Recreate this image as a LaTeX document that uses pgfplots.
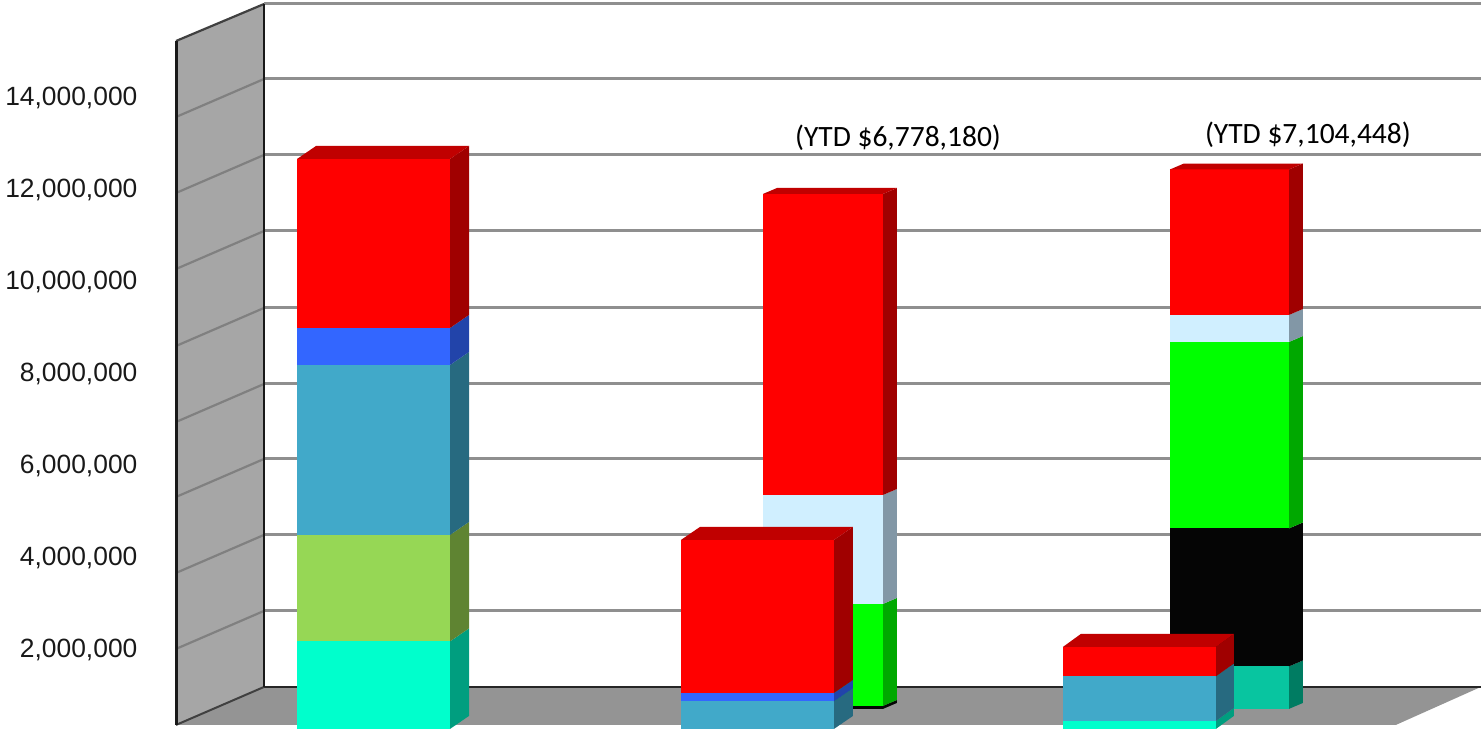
\documentclass[border=0pt]{standalone}
\usepackage{fontspec}
\setmainfont{Liberation Sans}
\newfontfamily\calib{Carlito}
\usepackage{pgfplots}
\pgfplotsset{compat=1.18}
\definecolor{wallc}{HTML}{A6A6A6}
\definecolor{floorc}{HTML}{949494}
\definecolor{gridc}{HTML}{8F8F8F}
\definecolor{wgrid}{HTML}{808080}
\definecolor{redF}{HTML}{FF0000}\definecolor{redS}{HTML}{A00000}\definecolor{redT}{HTML}{C00000}
\definecolor{bluF}{HTML}{3366FF}\definecolor{bluS}{HTML}{2244AA}
\definecolor{steF}{HTML}{41A9C9}\definecolor{steS}{HTML}{276A80}
\definecolor{oliF}{HTML}{96D755}\definecolor{oliS}{HTML}{5F8432}
\definecolor{cyaF}{HTML}{00FFCC}\definecolor{cyaS}{HTML}{009E7F}
\definecolor{ligF}{HTML}{D0EFFF}\definecolor{ligS}{HTML}{8297A6}
\definecolor{greF}{HTML}{00FF00}\definecolor{greS}{HTML}{00A800}
\definecolor{blkF}{HTML}{050505}\definecolor{blkS}{HTML}{050505}
\definecolor{teaF}{HTML}{08C5A0}\definecolor{teaS}{HTML}{007C62}
% #1 x0, #2 x1, #3 v0, #4 v1, #5 dx, #6 dv, #7 colour stem
\newcommand{\seg}[7]{%
  \pgfmathsetmacro{\xb}{#2+#5}%
  \pgfmathsetmacro{\vlo}{#3+#6}%
  \pgfmathsetmacro{\vhi}{#4+#6}%
  \addplot[fill=#7S,draw=none] coordinates {(#2,#3) (\xb,\vlo) (\xb,\vhi) (#2,#4)} --cycle;
  \addplot[fill=#7F,draw=none] coordinates {(#1,#3) (#2,#3) (#2,#4) (#1,#4)} --cycle;
}
% top face
\newcommand{\topf}[5]{%
  \pgfmathsetmacro{\xa}{#1+#4}%
  \pgfmathsetmacro{\xb}{#2+#4}%
  \pgfmathsetmacro{\vhi}{#3+#5}%
  \addplot[fill=redT,draw=none] coordinates {(#1,#3) (#2,#3) (\xb,\vhi) (\xa,\vhi)} --cycle;
}
\begin{document}
\begin{tikzpicture}
\begin{axis}[
  scale only axis, width=1481pt, height=730pt,
  xmin=0, xmax=1481, ymin=0.19565, ymax=16.06522,
  axis line style={draw=none}, major tick length=0pt,
  xtick=\empty,
  ytick={2,4,6,8,10,12,14},
  yticklabels={{2,000,000},{4,000,000},{6,000,000},{8,000,000},{10,000,000},{12,000,000},{14,000,000}},
  yticklabel style={anchor=east,inner sep=0pt,xshift=137.5pt,yshift=-3pt,text=black!90,font=\fontsize{26.4}{30}\selectfont},
  every axis plot/.append style={forget plot},
  clip=true,
]
% back grid lines
\addplot[gridc,line width=3pt] coordinates {(264,15.978) (1481,15.978)};
\addplot[gridc,line width=3pt] coordinates {(264,14.348) (1481,14.348)};
\addplot[gridc,line width=3pt] coordinates {(264,12.696) (1481,12.696)};
\addplot[gridc,line width=3pt] coordinates {(264,11.043) (1481,11.043)};
\addplot[gridc,line width=3pt] coordinates {(264,9.370) (1481,9.370)};
\addplot[gridc,line width=3pt] coordinates {(264,7.717) (1481,7.717)};
\addplot[gridc,line width=3pt] coordinates {(264,6.087) (1481,6.087)};
\addplot[gridc,line width=3pt] coordinates {(264,4.435) (1481,4.435)};
\addplot[gridc,line width=3pt] coordinates {(264,2.783) (1481,2.783)};
% floor
\addplot[fill=floorc,draw=none] coordinates {(176,0.304) (264,1.130) (1481,1.130) (1396,0.304)} --cycle;
\addplot[black!85,line width=2.6pt] coordinates {(264,1.130) (1481,1.130)};
% side wall
\addplot[fill=wallc,draw=none] coordinates {(176,0.304) (264,1.130) (264,15.978) (176,15.174)} --cycle;
\addplot[wgrid,line width=2.2pt] coordinates {(176,13.522) (264,14.348)};
\addplot[wgrid,line width=2.2pt] coordinates {(176,11.870) (264,12.696)};
\addplot[wgrid,line width=2.2pt] coordinates {(176,10.217) (264,11.043)};
\addplot[wgrid,line width=2.2pt] coordinates {(176,8.543) (264,9.370)};
\addplot[wgrid,line width=2.2pt] coordinates {(176,6.891) (264,7.717)};
\addplot[wgrid,line width=2.2pt] coordinates {(176,5.261) (264,6.087)};
\addplot[wgrid,line width=2.2pt] coordinates {(176,3.609) (264,4.435)};
\addplot[wgrid,line width=2.2pt] coordinates {(176,1.957) (264,2.783)};
\addplot[black!75,line width=2.2pt] coordinates {(176,15.174) (264,15.978)};
\addplot[black!75,line width=2pt] coordinates {(176,0.304) (264,1.130)};
\addplot[black!90,line width=3pt] coordinates {(176,0.304) (176,15.174)};
\addplot[black!90,line width=2.6pt] coordinates {(264,1.130) (264,15.978)};
% bar 1
\seg{297}{450}{0.217}{2.120}{19}{0.283}{cya}
\seg{297}{450}{2.120}{4.435}{19}{0.283}{oli}
\seg{297}{450}{4.435}{8.130}{19}{0.283}{ste}
\seg{297}{450}{8.130}{8.935}{19}{0.283}{blu}
\seg{297}{450}{8.935}{12.609}{19}{0.283}{red}
\topf{297}{450}{12.609}{19}{0.283}
% bar 2 back
\seg{763}{883}{0.652}{0.717}{14}{0.130}{blk}
\seg{763}{883}{0.717}{2.935}{14}{0.130}{gre}
\seg{763}{883}{2.935}{5.304}{14}{0.130}{lig}
\seg{763}{883}{5.304}{11.848}{14}{0.130}{red}
\topf{763}{883}{11.848}{14}{0.130}
% bar 2 front
\seg{681}{834}{0.217}{0.815}{19}{0.283}{ste}
\seg{681}{834}{0.815}{1.000}{19}{0.283}{blu}
\seg{681}{834}{1.000}{4.326}{19}{0.283}{red}
\topf{681}{834}{4.326}{19}{0.283}
% bar 3 back
\seg{1170}{1289}{0.652}{1.576}{14}{0.130}{tea}
\seg{1170}{1289}{1.576}{4.576}{14}{0.130}{blk}
\seg{1170}{1289}{4.576}{8.630}{14}{0.130}{gre}
\seg{1170}{1289}{8.630}{9.217}{14}{0.130}{lig}
\seg{1170}{1289}{9.217}{12.380}{14}{0.130}{red}
\topf{1170}{1289}{12.380}{14}{0.130}
% bar 3 front
\seg{1063}{1216}{0.217}{0.391}{18}{0.283}{cya}
\seg{1063}{1216}{0.391}{1.359}{18}{0.283}{ste}
\seg{1063}{1216}{1.359}{2.000}{18}{0.283}{red}
\topf{1063}{1216}{2.000}{18}{0.283}
% annotations
\node[font=\calib\fontsize{29.5}{32}\selectfont,inner sep=0pt] at (axis cs:898,13.07) {(YTD \$6,778,180)};
\node[font=\calib\fontsize{29.5}{32}\selectfont,inner sep=0pt] at (axis cs:1308,13.13) {(YTD \$7,104,448)};
\end{axis}
\end{tikzpicture}
\end{document}
